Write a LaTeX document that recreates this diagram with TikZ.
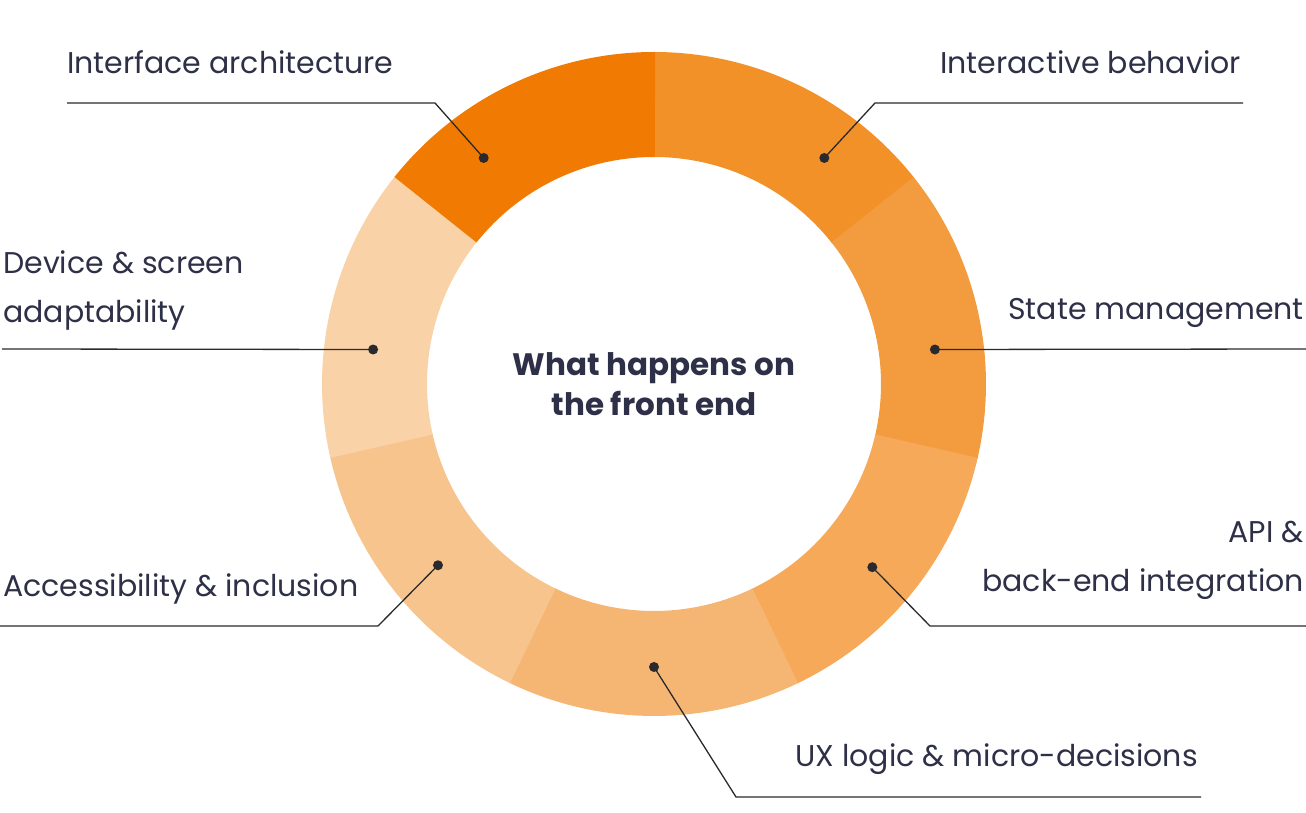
\documentclass[tikz,border=0pt]{standalone}
\usepackage{fontspec}
\setmainfont{Poppins}
\usetikzlibrary{positioning,calc}

\definecolor{segIA}{HTML}{F07A02}
\definecolor{segIB}{HTML}{F29128}
\definecolor{segSM}{HTML}{F39C3F}
\definecolor{segAPI}{HTML}{F5A959}
\definecolor{segUX}{HTML}{F6B673}
\definecolor{segACC}{HTML}{F8C48D}
\definecolor{segDS}{HTML}{F9D2A8}
\definecolor{ink}{HTML}{2E3047}
\definecolor{leader}{HTML}{2A2A2E}

\tikzset{
  seglabel/.style={font=\fontsize{30}{49}\selectfont, text=ink, inner sep=0pt},
  leadline/.style={draw=leader, line width=1.3pt},
  dot/.style={circle, fill=leader, minimum size=10pt, inner sep=0pt},
}

\begin{document}
\begin{tikzpicture}[x=1pt,y=1pt]
\useasboundingbox (0,0) rectangle (1306,813);
\coordinate (C) at (654,429);

% Ring segments, clockwise from the top
\foreach \k/\col in {0/segIB,1/segSM,2/segAPI,3/segUX,4/segACC,5/segDS,6/segIA} {
  \pgfmathsetmacro\sa{90-51.4286*\k}
  \pgfmathsetmacro\ea{\sa-51.4286-0.2}
  \fill[\col] ($(C)+(\sa:332)$) arc[start angle=\sa, end angle=\ea, radius=332]
    -- ($(C)+(\ea:227)$) arc[start angle=\ea, end angle=\sa, radius=227] -- cycle;
}

% Centre title
\node[font=\fontsize{31}{40}\selectfont\bfseries, text=ink, align=center] (title) at (C) {What happens on\\the front end};

% Dots on the ring
\node[dot] (iadot) at ($(C)+(127:283)$) {};
\node[dot] (ibdot) at ($(C)+(53:283)$) {};
\node[dot] (smdot) at ($(C)+(7:283)$) {};
\node[dot] (dsdot) at ($(C)+(173:283)$) {};
\node[dot] (apidot) at ($(C)+(-40:285)$) {};
\node[dot] (accdot) at ($(C)+(-140:282)$) {};
\node[dot] (uxdot) at ($(C)+(-90:283)$) {};

% Bends and ends of the leader lines
\coordinate (iabend) at (435,710);
\coordinate (iaend) at (67,710);
\coordinate (ibbend) at (875,710);
\coordinate (ibend) at (1243,710);
\coordinate (smend) at (1306,464);
\coordinate (dsend) at (2,464);
\coordinate (accbend) at (378,187);
\coordinate (accend) at (0,187);
\coordinate (apibend) at (930,187);
\coordinate (apiend) at (1306,187);
\coordinate (uxbend) at (736,16);
\coordinate (uxend) at (1201,16);

% Labels
\node[seglabel, above right=29pt and 0pt of iaend, anchor=base west] (ialabel) {Interface architecture};
\node[seglabel, above left=29pt and 2pt of ibend, anchor=base east] (iblabel) {Interactive behavior};
\node[seglabel, above left=29pt and 2pt of smend, anchor=base east] (smlabel) {State management};
\node[seglabel, align=left, above right=26pt and 1pt of dsend, anchor=base west] (dslabel) {Device \& screen\\adaptability};
\node[seglabel, above right=29pt and 3pt of accend, anchor=base west] (acclabel) {Accessibility \& inclusion};
\node[seglabel, align=right, above left=34pt and 2pt of apiend, anchor=base east] (apilabel) {API \&\\back-end integration};
\node[seglabel, above left=30pt and 3pt of uxend, anchor=base east] (uxlabel) {UX logic \& micro-decisions};

% Leader lines
\draw[leadline] (iadot.center) -- (iabend) -- (iaend);
\draw[leadline] (ibdot.center) -- (ibbend) -- (ibend);
\draw[leadline] (smdot.center) -- (smend);
\draw[leadline] (dsdot.center) -- (dsend);
\draw[leadline] (accdot.center) -- (accbend) -- (accend);
\draw[leadline] (apidot.center) -- (apibend) -- (apiend);
\draw[leadline] (uxdot.center) -- (uxbend) -- (uxend);
\end{tikzpicture}
\end{document}
